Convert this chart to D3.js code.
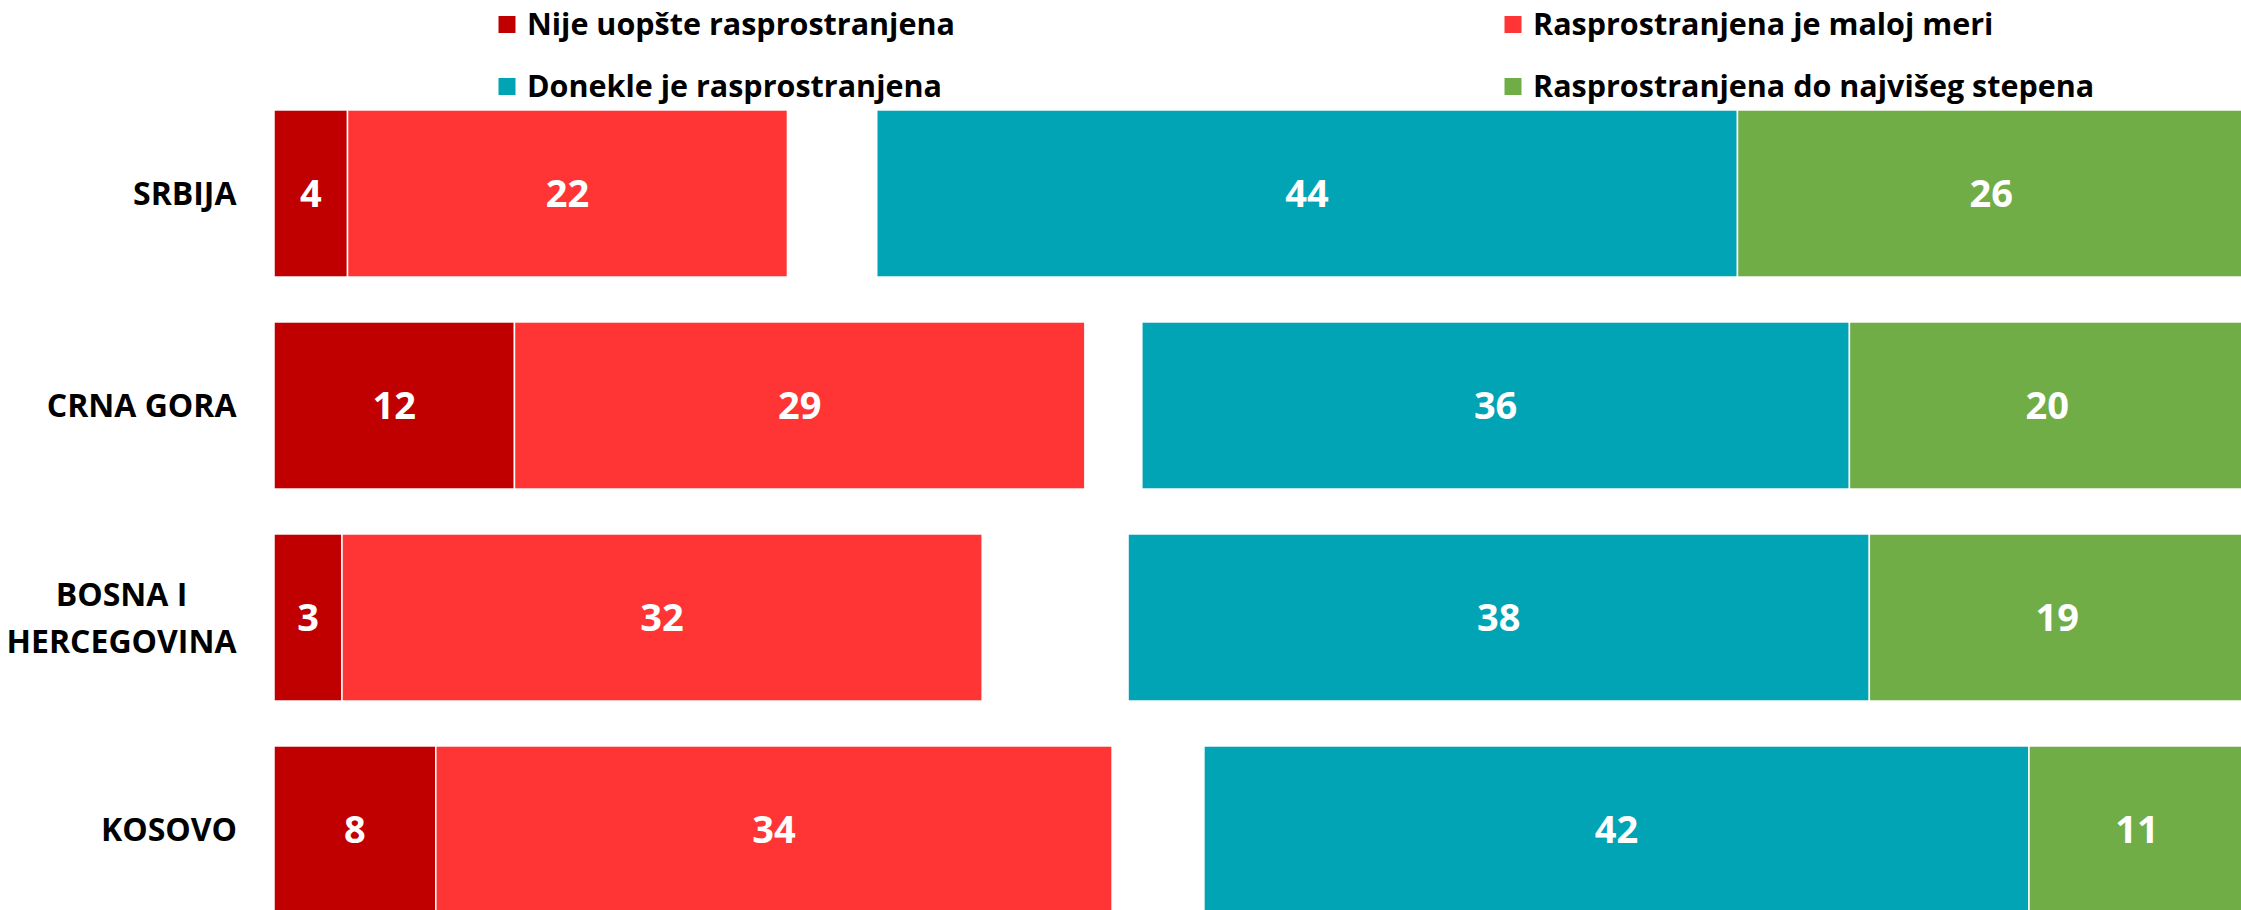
<!DOCTYPE html>
<html lang="sr">
  <head>
    <meta charset="utf-8" />
    <script src="https://cdn.jsdelivr.net/npm/d3@7/dist/d3.min.js"></script>
    <style>
      body { margin: 0; background: #fff; }
      text { font-family: "Open Sans", "DejaVu Sans", sans-serif; font-weight: 700; }
    </style>
  </head>
  <body>
    <div id="container"></div>

    <script>
      const width = 2241;
      const height = 910;

      // data (percent); "neutral" is the hidden middle part
      const countries = [["SRBIJA"], ["CRNA GORA"], ["BOSNA I", "HERCEGOVINA"], ["KOSOVO"]];
      const nijeUopste = [3.73, 12.2, 3.45, 8.21];
      const maloj = [22.32, 28.94, 32.48, 34.31];
      const neutral = [4.53, 2.89, 7.4, 4.66];
      const donekle = [43.67, 35.9, 37.61, 41.86];
      const najviseg = [25.75, 20.07, 19.06, 10.96];

      const keys = ["nije", "malo", "neutral", "donekle", "najvise"];
      const legendLabels = [
        "Nije uopšte rasprostranjena",
        "Rasprostranjena je maloj meri",
        "Donekle je rasprostranjena",
        "Rasprostranjena do najvišeg stepena"
      ];
      const legendKeys = ["nije", "malo", "donekle", "najvise"];
      const colors = { nije: "#C00000", malo: "#FF3535", neutral: "none", donekle: "#00A4B5", najvise: "#70AD47" };

      const rows = countries.map((c, i) => ({
        name: c.join(" "),
        lines: c,
        nije: nijeUopste[i],
        malo: maloj[i],
        neutral: neutral[i],
        donekle: donekle[i],
        najvise: najviseg[i]
      }));

      const svg = d3.select("#container").append("svg").attr("width", width).attr("height", height);

      const x = d3.scaleLinear().domain([0, 100]).range([274, 2245]);
      const y = d3
        .scaleBand()
        .domain(rows.map((d) => d.name))
        .range([87.5, 935.5])
        .paddingInner(0.212)
        .paddingOuter(0.106);

      const series = d3.stack().keys(keys)(rows);

      const g = svg.append("g");
      series.forEach((s) => {
        if (s.key === "neutral") return;
        const grp = g.append("g");
        grp
          .selectAll("rect")
          .data(s)
          .join("rect")
          .attr("x", (d) => x(d[0]))
          .attr("y", (d) => y(d.data.name))
          .attr("width", (d) => x(d[1]) - x(d[0]))
          .attr("height", y.bandwidth())
          .attr("fill", colors[s.key])
          .attr("stroke", "#fff")
          .attr("stroke-width", 1.5);
        grp
          .selectAll("text")
          .data(s)
          .join("text")
          .attr("x", (d) => (x(d[0]) + x(d[1])) / 2)
          .attr("y", (d) => y(d.data.name) + y.bandwidth() / 2)
          .attr("dy", "0.36em")
          .attr("text-anchor", "middle")
          .attr("fill", "#fff")
          .attr("font-size", 38)
          .text((d) => Math.round(d[1] - d[0]));
      });

      // category labels, right aligned block; multi-line centred inside the block
      const labelRight = 237;
      const lineGap = 47;
      rows.forEach((r) => {
        const cy = y(r.name) + y.bandwidth() / 2;
        const t = svg
          .append("text")
          .attr("font-size", 32)
          .attr("fill", "#000")
          .attr("text-anchor", "middle");
        r.lines.forEach((ln, i) => {
          t.append("tspan")
            .attr("x", 0)
            .attr("y", cy + (i - (r.lines.length - 1) / 2) * lineGap)
            .attr("dy", "0.36em")
            .text(ln);
        });
        const w = t.node().getBBox().width;
        t.selectAll("tspan").attr("x", labelRight - w / 2);
      });

      // legend
      const legendX = [498, 1504];
      const legendY = [24.5, 86.5];
      const legend = svg.append("g");
      legendKeys.forEach((k, i) => {
        const lx = legendX[i % 2];
        const ly = legendY[Math.floor(i / 2)];
        legend
          .append("rect")
          .attr("x", lx)
          .attr("y", ly - 9)
          .attr("width", 18)
          .attr("height", 18)
          .attr("fill", colors[k])
          .attr("stroke", "#fff")
          .attr("stroke-width", 1);
        legend
          .append("text")
          .attr("x", lx + 29)
          .attr("y", ly)
          .attr("dy", "0.36em")
          .attr("font-size", 30.5)
          .attr("fill", "#000")
          .text(legendLabels[i]);
      });
    </script>
  </body>
</html>
